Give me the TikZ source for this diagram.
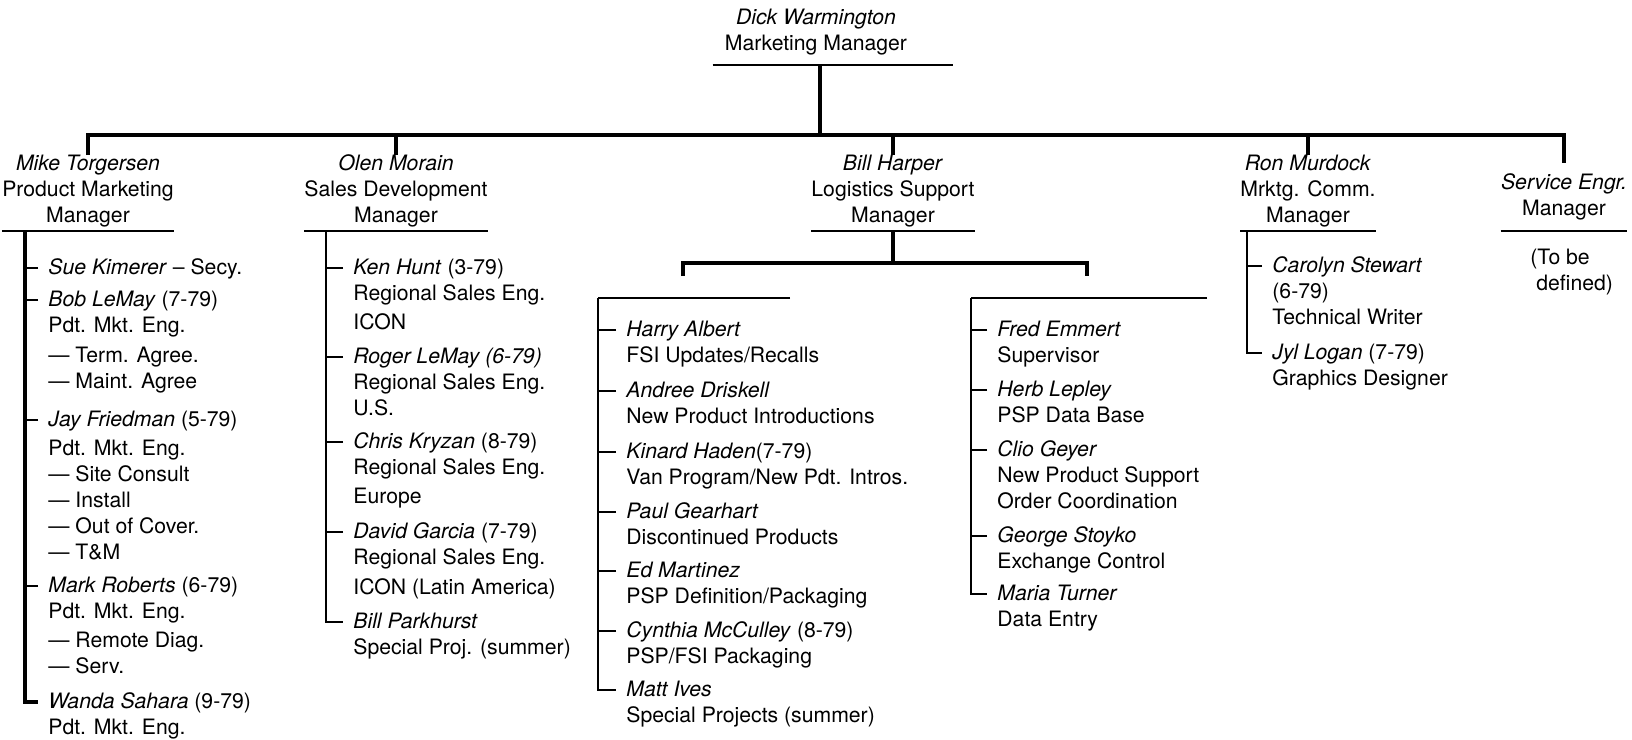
\documentclass[tikz,border=0pt]{standalone}
\usepackage{fontspec}
\setmainfont{TeX Gyre Heros}
\newcommand\orgfont{\fontsize{10.6}{13}\selectfont}

\begin{document}
\begin{tikzpicture}[x=0.5pt,y=-0.5pt,
  every node/.style={inner sep=0pt,font=\orgfont},
  head/.style={align=center,anchor=north},
  staff/.style={align=left,anchor=north west},
  bar/.style={line width=1.8pt},
  stem/.style={line width=1.4pt},
  rule/.style={line width=0.9pt},
  tick/.style={line width=0.7pt}]
\useasboundingbox (0,0) rectangle (1632,739);

\node[head] (boss) at (816,6) {\strut\textit{Dick Warmington}\\Marketing Manager\strut};
\node[head] (mike) at (88,152) {\strut\textit{Mike Torgersen}\\Product Marketing\\Manager\strut};
\node[head] (olen) at (396,152) {\strut\textit{Olen Morain}\\Sales Development\\Manager\strut};
\node[head] (bill) at (893,152) {\strut\textit{Bill Harper}\\Logistics Support\\Manager\strut};
\node[head] (ron) at (1308,152) {\strut\textit{Ron Murdock}\\Mrktg. Comm.\\Manager\strut};
\node[head] (service) at (1564,171) {\strut\textit{Service Engr.}\\Manager\strut};
\node[staff] (tbd) at (1530,246) {\strut(To be\\\hspace*{3pt}defined)};

\node[staff] (sue) at (48,256) {\strut\textit{Sue Kimerer} – Secy.};
\node[staff] (bob) at (48,288) {\strut\textit{Bob LeMay} (7-79)\\Pdt. Mkt. Eng.\\[2pt]— Term. Agree.\\— Maint. Agree};
\node[staff] (jay) at (48,408) {\strut\textit{Jay Friedman} (5-79)\\[1.5pt]Pdt. Mkt. Eng.\\— Site Consult\\— Install\\— Out of Cover.\\— T\&M};
\node[staff] (mark) at (48,574) {\strut\textit{Mark Roberts} (6-79)\\Pdt. Mkt. Eng.\\[1.5pt]— Remote Diag.\\— Serv.};
\node[staff] (wanda) at (48,690) {\strut\textit{Wanda Sahara} (9-79)\\Pdt. Mkt. Eng.};

\node[staff] (ken) at (353,256) {\strut\textit{Ken Hunt} (3-79)\\Regional Sales Eng.\\[1.5pt]ICON};
\node[staff] (roger) at (353,345) {\strut\textit{Roger LeMay (6-79)}\\Regional Sales Eng.\\U.S.};
\node[staff] (chris) at (353,430) {\strut\textit{Chris Kryzan} (8-79)\\Regional Sales Eng.\\[1.5pt]Europe};
\node[staff] (david) at (353,520) {\strut\textit{David Garcia} (7-79)\\Regional Sales Eng.\\[2pt]ICON (Latin America)};
\node[staff] (parkhurst) at (353,610) {\strut\textit{Bill Parkhurst}\\Special Proj. (summer)};

\node[staff] (harry) at (626,318) {\strut\textit{Harry Albert}\\FSI Updates/Recalls};
\node[staff] (andree) at (626,379) {\strut\textit{Andree Driskell}\\New Product Introductions};
\node[staff] (kinard) at (626,440) {\strut\textit{Kinard Haden}(7-79)\\Van Program/New Pdt. Intros.};
\node[staff] (paul) at (626,500) {\strut\textit{Paul Gearhart}\\Discontinued Products};
\node[staff] (ed) at (626,559) {\strut\textit{Ed Martinez}\\PSP Definition/Packaging};
\node[staff] (cynthia) at (626,619) {\strut\textit{Cynthia McCulley} (8-79)\\PSP/FSI Packaging};
\node[staff] (matt) at (626,678) {\strut\textit{Matt Ives}\\Special Projects (summer)};

\node[staff] (fred) at (997,318) {\strut\textit{Fred Emmert}\\Supervisor};
\node[staff] (herb) at (997,378) {\strut\textit{Herb Lepley}\\PSP Data Base};
\node[staff] (clio) at (997,438) {\strut\textit{Clio Geyer}\\New Product Support\\Order Coordination};
\node[staff] (george) at (997,524) {\strut\textit{George Stoyko}\\Exchange Control};
\node[staff] (maria) at (997,582) {\strut\textit{Maria Turner}\\Data Entry};

\node[staff] (carolyn) at (1272,254) {\strut\textit{Carolyn Stewart}\\(6-79)\\Technical Writer};
\node[staff] (jyl) at (1272,341) {\strut\textit{Jyl Logan} (7-79)\\Graphics Designer};

\coordinate (hub) at (820,135);
\coordinate (boss-rule) at ([yshift=-3pt]boss.south);
\draw[rule] ([xshift=-6pt]boss-rule -| boss.west) -- ([xshift=23pt]boss-rule -| boss.east);
\draw[bar] (hub |- boss-rule) -- (hub);
\draw[bar] ([yshift=-1.5pt]mike.north) |- (hub) -| ([yshift=4pt]service.north);
\foreach \h in {olen,bill,ron}
  \draw[bar] (\h.north |- hub) -- ([yshift=-1.5pt]\h.north);
\foreach \h in {mike,olen,bill,ron}
  \draw[rule] (\h.south west) -- (\h.south east);
\draw[rule] (service.west |- mike.south) -- (service.east |- mike.south);

\coordinate (mike-stem) at (25,231);
\foreach \p in {sue,bob,jay,mark}{
  \coordinate (t) at ([shift={(-5pt,-6pt)}]\p.north west);
  \draw[tick] (t) -- (t -| mike-stem);}
\draw[bar] (mike-stem) |- ([shift={(-5pt,-6pt)}]wanda.north west);

\coordinate (olen-stem) at (326,231);
\foreach \p in {ken,roger,chris,david}{
  \coordinate (t) at ([shift={(-5pt,-6pt)}]\p.north west);
  \draw[tick] (t) -- (t -| olen-stem);}
\draw[stem] (olen-stem) |- ([shift={(-5pt,-6pt)}]parkhurst.north west);

\coordinate (split) at (bill.south |- 0,263);
\coordinate (left-hook) at (683,276);
\coordinate (right-hook) at (1087,276);
\draw[bar] (bill.south) -- (split);
\draw[bar] (left-hook) |- (split) -| (right-hook);

\coordinate (left-top) at (598,298);
\coordinate (left-end) at (790,298);
\draw[rule] (left-end) -- (left-top);
\foreach \p in {harry,andree,kinard,paul,ed,cynthia}{
  \coordinate (t) at ([shift={(-5pt,-6pt)}]\p.north west);
  \draw[tick] (t) -- (t -| left-top);}
\draw[stem] (left-top) |- ([shift={(-5pt,-6pt)}]matt.north west);

\coordinate (right-top) at (971,298);
\coordinate (right-end) at (1207,298);
\draw[rule] (right-end) -- (right-top);
\foreach \p in {fred,herb,clio,george}{
  \coordinate (t) at ([shift={(-5pt,-6pt)}]\p.north west);
  \draw[tick] (t) -- (t -| right-top);}
\draw[stem] (right-top) |- ([shift={(-5pt,-6pt)}]maria.north west);

\coordinate (ron-stem) at (ron.south west -| 1247,0);
\coordinate (t) at ([shift={(-5pt,-6pt)}]carolyn.north west);
\draw[tick] (t) -- (t -| ron-stem);
\draw[stem] (ron-stem) |- ([shift={(-5pt,-6pt)}]jyl.north west);
\end{tikzpicture}
\end{document}
